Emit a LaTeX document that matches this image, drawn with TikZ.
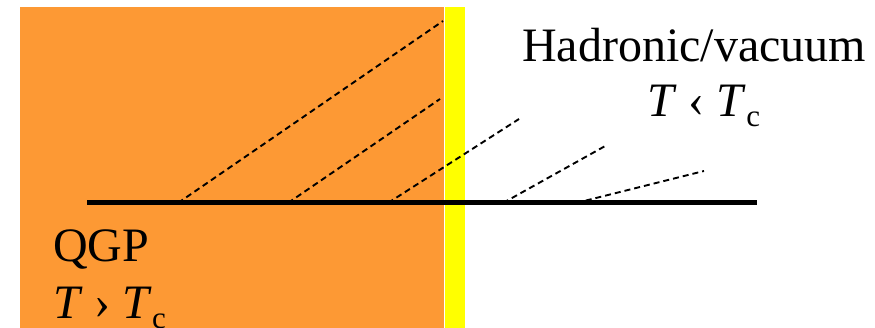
\documentclass[tikz,border=0pt]{standalone}
\usepackage{fontspec}
\setmainfont{Liberation Serif}
\definecolor{qgporange}{RGB}{253,153,52}
\definecolor{mixyellow}{RGB}{255,255,0}
\tikzset{
  lbl/.style={font=\fontsize{48}{50}\selectfont, inner sep=0pt, anchor=base},
  ray/.style={line width=1.9pt, dash pattern=on 6pt off 4pt},
  axisline/.style={line width=5pt}
}
\newcommand{\subc}{\raisebox{-10pt}{\fontsize{31}{31}\selectfont c}}
\begin{document}
\begin{tikzpicture}[x=1pt,y=-1pt]
\useasboundingbox (0,0) rectangle (875,328);
\fill[qgporange] (20,7) rectangle (444,340);
\fill[mixyellow] (445,7) rectangle (465,340);
% rays
\coordinate (r1s) at (178,203); \coordinate (r1e) at (443,21);
\coordinate (r2s) at (288,203); \coordinate (r2e) at (440,99);
\coordinate (r3s) at (388,203); \coordinate (r3e) at (519,119);
\coordinate (r4s) at (503,203); \coordinate (r4e) at (607,145);
\coordinate (r5s) at (576,203); \coordinate (r5e) at (704,171);
\draw[ray] (r1s) -- (r1e);
\draw[ray] (r2s) -- (r2e);
\draw[ray] (r3s) -- (r3e);
\draw[ray] (r4s) -- (r4e);
\draw[ray] (r5s) -- (r5e);
% axis
\coordinate (al) at (87,203); \coordinate (ar) at (757,203);
\draw[axisline] (al) -- (ar);
% labels
\node[lbl] (had) at (694,62) {Hadronic/vacuum};
\node[lbl, anchor=base west] (tlt) at (647,117) {\textit{T} ‹ \textit{T}\subc};
\node[lbl, anchor=base west] (qgp) at (53,262) {QGP};
\node[lbl, anchor=base west] (tgt) at (53,319) {\textit{T} › \textit{T}\subc};
\end{tikzpicture}
\end{document}
